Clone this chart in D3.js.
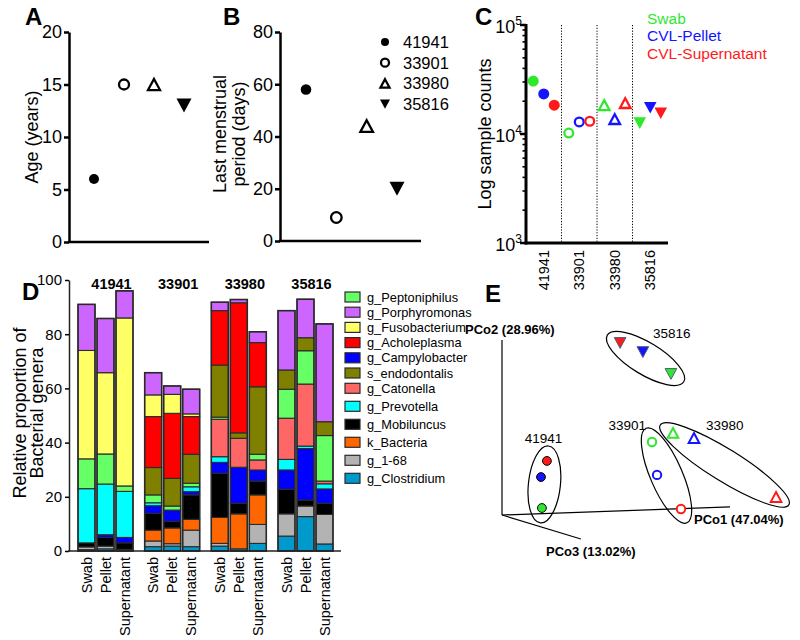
<!DOCTYPE html>
<html><head><meta charset="utf-8">
<script src="https://cdn.jsdelivr.net/npm/d3@7"></script>
<style>
body{margin:0;background:#fff;}
svg{font-family:"Liberation Sans",Arial,sans-serif;display:block;}
</style></head><body>
<svg id="c" width="800" height="640"></svg>
<script>
// ---------------- DATA ----------------
const subjects = ["41941", "33901", "33980", "35816"];
const ageYears = [6, 15, 15, 13];
const lastMenstrualDays = [58, 9, 44, 20];
const ageTicks = [0, 5, 10, 15, 20];
const lmpTicks = [0, 20, 40, 60, 80];

const sampleTypes = ["Swab", "CVL-Pellet", "CVL-Supernatant"];
const countsSwab = [30600, 10200, 18400, 12600];
const countsPellet = [23300, 12900, 13700, 17400];
const countsSupernatant = [18400, 13100, 19200, 15500];
const logTicks = [1000, 10000, 100000];

const barSamples = ["Swab", "Pellet", "Supernatant"];
const proportionTicks = [0, 20, 40, 60, 80, 100];
// stack order bottom -> top ; each array: 41941 S,P,Su | 33901 S,P,Su | 33980 S,P,Su | 35816 S,P,Su
const generaStack = ["g_Clostridium", "g_1-68", "k_Bacteria", "g_Mobiluncus", "g_Campylobacter",
  "g_Prevotella", "g_Catonella", "g_Peptoniphilus", "s_endodontalis", "g_Acholeplasma",
  "g_Fusobacterium", "g_Porphyromonas"];
const legendOrder = ["g_Peptoniphilus", "g_Porphyromonas", "g_Fusobacterium", "g_Acholeplasma",
  "g_Campylobacter", "s_endodontalis", "g_Catonella", "g_Prevotella", "g_Mobiluncus",
  "k_Bacteria", "g_1-68", "g_Clostridium"];
const gClostridium    = [0.5, 0.8, 0.6, 1.6, 1.8, 1.6, 1.8, 0.8, 2.8, 5.5, 12.7, 2.6];
const g168            = [1.0, 1.0, 0.0, 2.1, 0.9, 6.1, 1.0, 0.0, 7.0, 8.2, 3.9, 10.9];
const kBacteria       = [0, 0, 0, 4.0, 5.8, 4.0, 9.6, 12.9, 10.9, 0, 0, 0];
const gMobiluncus     = [1.5, 3.2, 2.4, 6.2, 2.4, 9.0, 16.3, 3.9, 5.1, 9.1, 2.2, 4.1];
const gCampylobacter  = [0, 1.0, 2.0, 2.8, 4.2, 1.2, 4.0, 13.3, 4.1, 7.1, 19.0, 5.3];
const gPrevotella     = [20, 18.7, 17, 1.1, 0, 1.8, 2.1, 0, 0, 3.9, 0.9, 1.9];
const gCatonella      = [0, 0, 0, 0, 0, 0, 13.8, 10.7, 3.7, 15.2, 22.9, 1.0];
const gPeptoniphilus  = [11, 11.1, 2, 2.9, 1.5, 1.3, 0.8, 0, 2.1, 10.7, 12.3, 16.8];
const sEndodontalis   = [0, 0, 0, 10.1, 10.2, 10.7, 19.2, 2.0, 24.9, 7.1, 4.8, 5.1];
const gAcholeplasma   = [0, 0, 0, 18.8, 24.0, 13.9, 20.1, 48.0, 16.3, 0, 0, 0];
const gFusobacterium  = [40, 30, 62, 8.0, 7.0, 1.0, 0, 0, 0, 0, 0, 0];
const gPorphyromonas  = [17, 20, 10, 8.2, 3.1, 9.1, 3.1, 1.2, 4.0, 21.9, 14.2, 36.1];

// PCoA projected coordinates (u along PCo1 screen axis, v along PCo2), per sample type, per subject
const pcoSwabU = [0.175, 0.658, 0.750, 0.741];
const pcoSwabV = [0.040, 0.417, 0.469, 0.806];
const pcoPelletU = [0.171, 0.680, 0.842, 0.618];
const pcoPelletV = [0.217, 0.229, 0.440, 0.931];
const pcoSuperU = [0.197, 0.785, 1.202, 0.518];
const pcoSuperV = [0.309, 0.034, 0.103, 0.983];
const pcoAxisLabels = ["PCo1 (47.04%)", "PCo2 (28.96%)", "PCo3 (13.02%)"];

// ---------------- STYLE ----------------
const sampleColors = ["#2ee82e", "#1414ff", "#ff1a1a"];
const genusColors = {
  "g_Peptoniphilus": "#66ff66", "g_Porphyromonas": "#cc66ff", "g_Fusobacterium": "#ffff66",
  "g_Acholeplasma": "#ff0000", "g_Campylobacter": "#0000ff", "s_endodontalis": "#808000",
  "g_Catonella": "#ff6666", "g_Prevotella": "#00ffff", "g_Mobiluncus": "#000000",
  "k_Bacteria": "#ff6600", "g_1-68": "#b3b3b3", "g_Clostridium": "#0099cc"
};
const subjShape = ["circle", "circle", "triUp", "triDown"];
const subjFilled = [true, false, false, true];

const svg = d3.select("#c");
svg.append("rect").attr("width", 800).attr("height", 640).attr("fill", "#fff");

function shapePath(shape, s) {
  if (shape === "circle") return d3.symbol(d3.symbolCircle, Math.PI * s * s)();
  if (shape === "triUp") return `M0,${-0.925 * s}L${s},${0.925 * s}L${-s},${0.925 * s}Z`;
  return `M0,${0.925 * s}L${s},${-0.925 * s}L${-s},${-0.925 * s}Z`;
}
function letter(t, x, y) {
  svg.append("text").attr("x", x).attr("y", y).attr("font-size", 24).attr("font-weight", "bold").text(t);
}
function rotTitle(lines, xs, cy, size) {
  lines.forEach((l, i) => {
    svg.append("text").attr("transform", `translate(${xs[i]},${cy}) rotate(-90)`)
      .attr("text-anchor", "middle").attr("font-size", size).text(l);
  });
}
function subjectMarker(g, i, x, y, col, sizes) {
  const sh = subjShape[i];
  const s = sh === "circle" ? sizes[0] : sh === "triUp" ? sizes[1] : sizes[2];
  g.append("path").attr("d", shapePath(sh, s)).attr("transform", `translate(${x},${y})`)
    .attr("fill", subjFilled[i] ? col : "#fff").attr("stroke", col)
    .attr("stroke-width", subjFilled[i] ? 0 : 2.3);
}

// ---------------- PANEL A ----------------
{
  const g = svg.append("g");
  const x = d3.scalePoint().domain(subjects).range([94, 184]);
  const y = d3.scaleLinear().domain([0, 20]).range([242, 32]);
  const ax = g.append("g").attr("transform", "translate(69,0)")
    .call(d3.axisLeft(y).tickValues(ageTicks).tickSize(5).tickPadding(2).tickSizeOuter(0));
  ax.select(".domain").attr("stroke-width", 2.5);
  ax.selectAll(".tick line").attr("stroke-width", 2.5);
  ax.selectAll("text").attr("font-size", 18).attr("font-family", "Liberation Sans, Arial, sans-serif");
  g.append("line").attr("x1", 68).attr("x2", 209).attr("y1", y(0)).attr("y2", y(0))
    .attr("stroke", "#000").attr("stroke-width", 2.5);
  subjects.forEach((s, i) => subjectMarker(g, i, x(s), y(ageYears[i]), "#000", [5, 6, 7.5]));
  rotTitle(["Age (years)"], [38], 137, 18);
  letter("A", 25, 25);
}

// ---------------- PANEL B ----------------
{
  const g = svg.append("g");
  const x = d3.scalePoint().domain(subjects).range([306, 397]);
  const y = d3.scaleLinear().domain([0, 80]).range([241, 32]);
  const ax = g.append("g").attr("transform", "translate(280,0)")
    .call(d3.axisLeft(y).tickValues(lmpTicks).tickSize(5).tickPadding(2).tickSizeOuter(0));
  ax.select(".domain").attr("stroke-width", 2.5);
  ax.selectAll(".tick line").attr("stroke-width", 2.5);
  ax.selectAll("text").attr("font-size", 18).attr("font-family", "Liberation Sans, Arial, sans-serif");
  g.append("line").attr("x1", 279).attr("x2", 421).attr("y1", y(0)).attr("y2", y(0))
    .attr("stroke", "#000").attr("stroke-width", 2.5);
  subjects.forEach((s, i) => subjectMarker(g, i, x(s), y(lastMenstrualDays[i]), "#000", [5.3, 6.3, 7.5]));
  // legend
  subjects.forEach((s, i) => {
    const yy = 42 + i * 20.7;
    subjectMarker(g, i, 385, yy, "#000", [4, 4.5, 5]);
    g.append("text").attr("x", 403).attr("y", yy + 6).attr("font-size", 16.5).text(s);
  });
  rotTitle(["Last menstrual", "period (days)"], [226, 245], 134, 18);
  letter("B", 223, 25);
}

// ---------------- PANEL C ----------------
{
  const g = svg.append("g");
  const x = d3.scaleBand().domain(subjects).range([526, 668]);
  const y = d3.scaleLog().domain([1e3, 1e5]).range([243, 25]);
  const counts = [countsSwab, countsPellet, countsSupernatant];
  // dotted separators
  subjects.slice(1).forEach(s => {
    g.append("line").attr("x1", x(s)).attr("x2", x(s)).attr("y1", 25).attr("y2", 243)
      .attr("stroke", "#000").attr("stroke-width", 1).attr("stroke-dasharray", "1.2,1.6");
  });
  // minor ticks
  y.ticks().forEach(v => {
    const isMajor = logTicks.includes(v);
    g.append("line").attr("x1", 526 - (isMajor ? 6 : 3.5)).attr("x2", 526).attr("y1", y(v)).attr("y2", y(v))
      .attr("stroke", "#000").attr("stroke-width", isMajor ? 2.5 : 1.6);
  });
  logTicks.forEach(v => {
    const t = g.append("text").attr("x", 522).attr("y", y(v) + 8).attr("text-anchor", "end").attr("font-size", 18);
    t.append("tspan").text("10");
    t.append("tspan").attr("dy", -8).attr("font-size", 12).text(Math.round(Math.log10(v)));
  });
  g.append("line").attr("x1", 526).attr("x2", 526).attr("y1", 24).attr("y2", 244.5)
    .attr("stroke", "#000").attr("stroke-width", 3);
  g.append("line").attr("x1", 524.5).attr("x2", 668).attr("y1", 243).attr("y2", 243)
    .attr("stroke", "#000").attr("stroke-width", 3);
  subjects.forEach(s => {
    g.append("text").attr("transform", `translate(${x(s) + x.bandwidth() / 2},250) rotate(-90)`)
      .attr("text-anchor", "end").attr("dy", "0.35em").attr("font-size", 14.5).text(s);
  });
  sampleTypes.forEach((st, k) => {
    subjects.forEach((s, i) => {
      const cx = x(s) + x.bandwidth() / 2 + (k - 1) * 10.5;
      subjectMarker(g, i, cx, y(counts[k][i]), sampleColors[k], [subjFilled[i] ? 5.5 : 4.4, 5.3, 6.3]);
    });
    g.append("text").attr("x", 647).attr("y", 24 + k * 17.3).attr("font-size", 15.5)
      .attr("fill", sampleColors[k]).text(st);
  });
  rotTitle(["Log sample counts"], [491], 134, 18);
  letter("C", 475, 25);
}

// ---------------- PANEL D ----------------
{
  const g = svg.append("g");
  const genusValues = {
    "g_Clostridium": gClostridium, "g_1-68": g168, "k_Bacteria": kBacteria, "g_Mobiluncus": gMobiluncus,
    "g_Campylobacter": gCampylobacter, "g_Prevotella": gPrevotella, "g_Catonella": gCatonella,
    "g_Peptoniphilus": gPeptoniphilus, "s_endodontalis": sEndodontalis, "g_Acholeplasma": gAcholeplasma,
    "g_Fusobacterium": gFusobacterium, "g_Porphyromonas": gPorphyromonas
  };
  const rows = [];
  subjects.forEach((s, i) => barSamples.forEach((b, j) => {
    const r = { subject: s, sample: b };
    generaStack.forEach(gn => r[gn] = genusValues[gn][i * 3 + j]);
    rows.push(r);
  }));
  const stack = d3.stack().keys(generaStack)(rows);
  const xo = d3.scaleBand().domain(subjects).range([78, 333]).paddingInner(0.175);
  const xi = d3.scaleBand().domain(barSamples).range([0, xo.bandwidth()]).paddingInner(2 / 19);
  const y = d3.scaleLinear().domain([0, 100]).range([551, 280]);

  stack.forEach(layer => {
    layer.forEach(d => {
      if (d[1] - d[0] <= 0) return;
      g.append("rect").attr("x", xo(d.data.subject) + xi(d.data.sample)).attr("width", xi.bandwidth())
        .attr("y", y(d[1])).attr("height", y(d[0]) - y(d[1]))
        .attr("fill", genusColors[layer.key]).attr("stroke", "#2a2a2a").attr("stroke-width", 1.1);
    });
  });
  // outline totals
  rows.forEach(r => {
    const tot = d3.sum(generaStack, k => r[k]);
    g.append("rect").attr("x", xo(r.subject) + xi(r.sample)).attr("width", xi.bandwidth())
      .attr("y", y(tot)).attr("height", y(0) - y(tot)).attr("fill", "none")
      .attr("stroke", "#2a2a2a").attr("stroke-width", 1.5);
  });
  const ax = g.append("g").attr("transform", "translate(69,0)")
    .call(d3.axisLeft(y).tickValues(proportionTicks).tickSize(4).tickPadding(3).tickSizeOuter(0));
  ax.select(".domain").attr("stroke-width", 1.5).attr("stroke", "#222");
  ax.selectAll(".tick line").attr("stroke-width", 1.5);
  ax.selectAll("text").attr("font-size", 15).attr("font-family", "Liberation Sans, Arial, sans-serif");
  g.append("line").attr("x1", 68).attr("x2", 341).attr("y1", y(0)).attr("y2", y(0))
    .attr("stroke", "#222").attr("stroke-width", 1.5);
  // sample labels
  rows.forEach(r => {
    g.append("text")
      .attr("transform", `translate(${xo(r.subject) + xi(r.sample) + xi.bandwidth() / 2},557) rotate(-90)`)
      .attr("text-anchor", "end").attr("dy", "0.35em").attr("font-size", 14.5).text(r.sample);
  });
  subjects.forEach(s => {
    g.append("text").attr("x", xo(s) + xo.bandwidth() / 2 + 6).attr("y", 289).attr("text-anchor", "middle")
      .attr("font-size", 14.5).attr("font-weight", "bold").text(s);
  });
  // legend
  legendOrder.forEach((gn, i) => {
    const yy = i < 6 ? 297 + 15.2 * i : 388.3 + 18 * (i - 6);
    g.append("rect").attr("x", 345).attr("y", yy - 5).attr("width", 15).attr("height", 10)
      .attr("fill", genusColors[gn]).attr("stroke", "#2a2a2a").attr("stroke-width", 1.2);
    g.append("text").attr("x", 367).attr("y", yy + 4.5).attr("font-size", 12.8).text(gn);
  });
  rotTitle(["Relative proportion of", "Bacterial genera"], [26, 43], 413, 18);
  letter("D", 22, 300);
}

// ---------------- PANEL E ----------------
{
  const g = svg.append("g");
  const x = d3.scaleLinear().domain([0, 1]).range([502, 730]);
  const y = d3.scaleLinear().domain([0, 1]).range([515, 340]);
  const U = [pcoSwabU, pcoPelletU, pcoSuperU], V = [pcoSwabV, pcoPelletV, pcoSuperV];
  const ln = (u1, v1, u2, v2) => g.append("line").attr("x1", x(u1)).attr("y1", y(v1))
    .attr("x2", x(u2)).attr("y2", y(v2)).attr("stroke", "#000").attr("stroke-width", 1.2);
  ln(0, 0, 0, 1);
  ln(0, 0, 1, 0.046);
  ln(0, 0, 0.346, -0.137);
  g.append("text").attr("x", 694).attr("y", 524).attr("font-size", 13).attr("font-weight", "bold").text(pcoAxisLabels[0]);
  g.append("text").attr("x", 465).attr("y", 334).attr("font-size", 13).attr("font-weight", "bold").text(pcoAxisLabels[1]);
  g.append("text").attr("x", 546).attr("y", 556).attr("font-size", 13).attr("font-weight", "bold").text(pcoAxisLabels[2]);

  const labelPos = [[-1, -41.5, "middle"], [-20.5, -45.5, "end"], [-18.5, -35, "start"], [7.5, -20.5, "start"]];
  subjects.forEach((s, i) => {
    const pts = [0, 1, 2].map(k => [x(U[k][i]), y(V[k][i])]);
    // ellipse through the two most distant points
    let best = [0, 1], bd = -1;
    for (let a = 0; a < 3; a++) for (let b = a + 1; b < 3; b++) {
      const d = Math.hypot(pts[a][0] - pts[b][0], pts[a][1] - pts[b][1]);
      if (d > bd) { bd = d; best = [a, b]; }
    }
    const p1 = pts[best[0]], p2 = pts[best[1]];
    const cx = (p1[0] + p2[0]) / 2, cy = (p1[1] + p2[1]) / 2;
    const ang = Math.atan2(p2[1] - p1[1], p2[0] - p1[0]) * 180 / Math.PI;
    const rx = bd / 2 + 15, ry = 16;
    g.append("ellipse").attr("cx", 0).attr("cy", 0).attr("rx", rx).attr("ry", ry)
      .attr("transform", `translate(${cx},${cy}) rotate(${ang})`)
      .attr("fill", "none").attr("stroke", "#000").attr("stroke-width", 1.2);
    g.append("text").attr("x", cx + labelPos[i][0]).attr("y", cy + labelPos[i][1])
      .attr("text-anchor", labelPos[i][2]).attr("font-size", 13.5).text(s);
    pts.forEach((p, k) => {
      const col = sampleColors[k];
      const sh = subjShape[i];
      const sz = sh === "circle" ? (subjFilled[i] ? 4.4 : 4.2) : sh === "triUp" ? 5.3 : 5.8;
      g.append("path").attr("d", shapePath(sh, sz)).attr("transform", `translate(${p[0]},${p[1]})`)
        .attr("fill", subjFilled[i] ? col : "#fff")
        .attr("stroke", subjFilled[i] ? (sh === "circle" ? "#000" : "#4a5a7a") : col)
        .attr("stroke-width", subjFilled[i] ? 1 : 2);
    });
  });
  letter("E", 485, 302);
}
</script>
</body></html>
